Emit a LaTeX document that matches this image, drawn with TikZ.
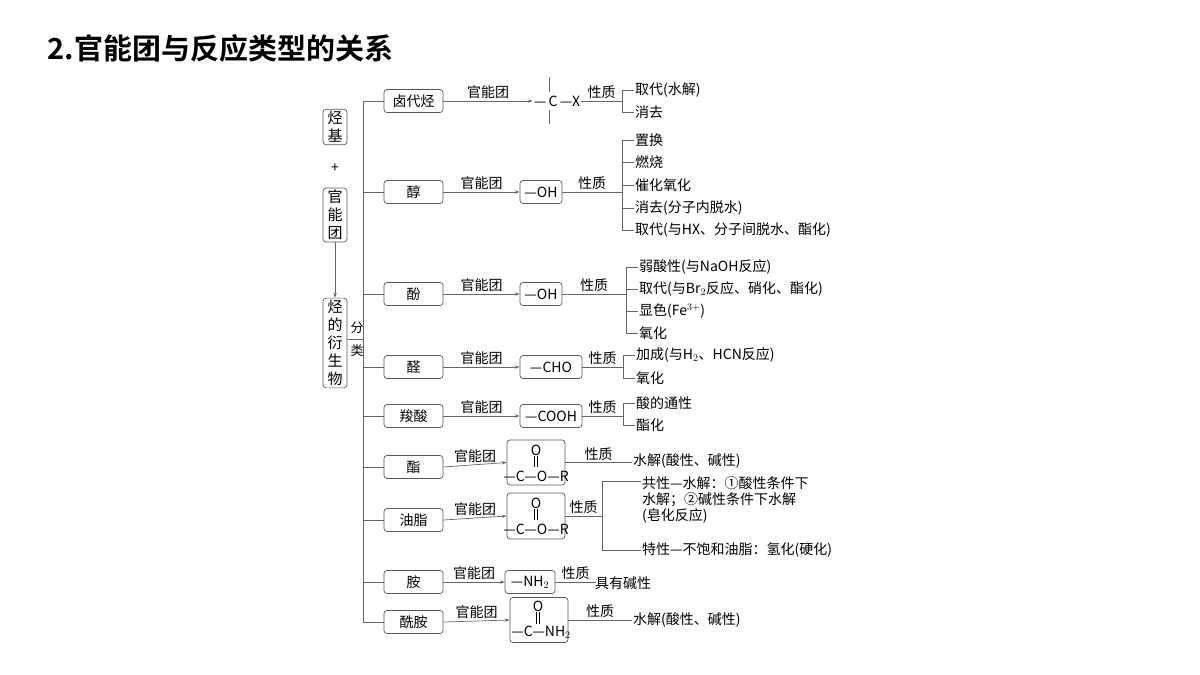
\documentclass[tikz,border=0pt]{standalone}
\usepackage{fontspec}
\setmainfont{Noto Sans CJK SC}[BoldFont={Noto Sans CJK SC Bold}]
\usetikzlibrary{arrows.meta,positioning}
\tikzset{
  box/.style={draw=black!65,rounded corners=3pt,line width=0.7pt,inner sep=2pt,minimum height=23pt,font=\fontsize{14}{16}\selectfont},
  vbox/.style={box,minimum width=24pt,align=center,font=\fontsize{15}{18}\selectfont},
  lbl/.style={font=\fontsize{14}{16}\selectfont,inner sep=1pt},
  conn/.style={draw=black!60,line width=0.7pt},
  arr/.style={conn,-{Stealth[length=5pt,width=3.5pt]}},
}
\begin{document}
\begin{tikzpicture}[x=1pt,y=-1pt]
  \useasboundingbox (0,0) rectangle (1200,675);
  \node[anchor=west,font=\fontsize{29}{32}\selectfont\bfseries] (title) at (44,48) {2.官能团与反应类型的关系};
  % left column
  \node[vbox] (tj) at (335,127) {烃\\基};
  \node[lbl] (plus) at (335,168) {+};
  \node[vbox] (gnt) at (335,215) {官\\能\\团};
  \node[vbox] (ysw) at (335,343) {烃\\的\\衍\\生\\物};
  \draw[arr] (gnt.south) -- (ysw.north);
  \node[lbl,font=\fontsize{13}{15}\selectfont] (fen) at (357,328) {分};
  \node[lbl,font=\fontsize{13}{15}\selectfont] (lei) at (357,351) {类};
  \coordinate (trunk) at (363,339);
  \draw[conn] (ysw.east |- trunk) -- (trunk);
  \draw[conn] (363,101) -- (363,622);
  % classes
  \foreach \n/\t/\y in {c1/卤代烃/101,c2/醇/192,c3/酚/294,c4/醛/367,c5/羧酸/416,c6/酯/467,c7/油脂/520,c8/胺/582,c9/酰胺/622}{
    \node[box,minimum width=59pt] (\n) at (413.5,\y) {\t};
    \draw[conn] (363,\y) -- (\n.west);
  }
  % functional groups
  \node[lbl] (f1) at (557,101) {—\,C\,—X};
  \draw[conn] (549,77) -- (549,92) (549,110) -- (549,124);
  \node[box,minimum width=42pt] (f2) at (541,192) {—OH};
  \node[box,minimum width=42pt] (f3) at (541,294) {—OH};
  \node[box,minimum width=62pt] (f4) at (551,367) {—CHO};
  \node[box,minimum width=62pt] (f5) at (551,416) {—COOH};
  \node[box,minimum width=58pt,minimum height=45pt] (f6) at (536,462.5) {};
  \node[box,minimum width=58pt,minimum height=46pt] (f7) at (536,516) {};
  \node[box,minimum width=50pt] (f8) at (530,582) {—NH$_2$};
  \node[box,minimum width=58pt,minimum height=45pt] (f9) at (539,620) {};
  \foreach \b/\dy in {f6/0,f7/53}{
    \node[lbl] at (536,450+\dy) {O};
    \draw[line width=0.5pt] (534.5,456+\dy) -- (534.5,467+\dy) (537.5,456+\dy) -- (537.5,467+\dy);
    \node[lbl] at (536,476+\dy) {—C—O—R};
  }
  \node[lbl] at (538,606) {O};
  \draw[line width=0.5pt] (536.5,612) -- (536.5,624) (539.5,612) -- (539.5,624);
  \node[lbl] at (541,632) {—C—NH$_2$};
  \foreach \i in {1,...,9}{
    \draw[arr] (c\i.east) -- node[lbl,above=1pt] {官能团} (f\i.west);
  }
  % properties
  \foreach \f/\x in {f1/622,f2/622,f3/626,f4/623,f5/623,f6/632,f7/602,f8/596,f9/632}{
    \draw[conn] (\f.east) -- node[lbl,above=1pt] {性质} (\x,0 |- \f.east);
  }
  \foreach \t/\x/\y [count=\k] in {取代(水解)/622/90,消去/622/112,
      置换/622/140,燃烧/622/162,催化氧化/622/185,消去(分子内脱水)/622/208,取代(与HX、分子间脱水、酯化)/622/230,
      弱酸性(与NaOH反应)/626/267,取代(与Br$_2$反应、硝化、酯化)/626/289,显色(Fe$^{3+}$)/626/311,氧化/626/333,
      加成(与H$_2$、HCN反应)/623/355,氧化/623/378,酸的通性/623/403,酯化/623/425}{
    \node[lbl,anchor=west] (p\k) at (\x+12,\y) {\t};
    \draw[conn] (p\k.west) -- (\x,\y);
  }
  \draw[conn] (622,90) -- (622,112) (622,140) -- (622,230) (626,267) -- (626,333) (623,355) -- (623,378) (623,403) -- (623,425);
  \node[lbl,anchor=west] (q1) at (632,461) {水解(酸性、碱性)};
  \node[lbl,anchor=west,align=left] (q2) at (641,500) {共性—水解：①酸性条件下\\水解；②碱性条件下水解\\(皂化反应)};
  \node[lbl,anchor=west] (q3) at (641,550) {特性—不饱和油脂：氢化(硬化)};
  \draw[conn] (q2.west |- 0,481) -- (602,481) -- (602,550) -- (q3.west);
  \node[lbl,anchor=west] (q4) at (594,583) {具有碱性};
  \node[lbl,anchor=west] (q5) at (632,620) {水解(酸性、碱性)};
\end{tikzpicture}
\end{document}
